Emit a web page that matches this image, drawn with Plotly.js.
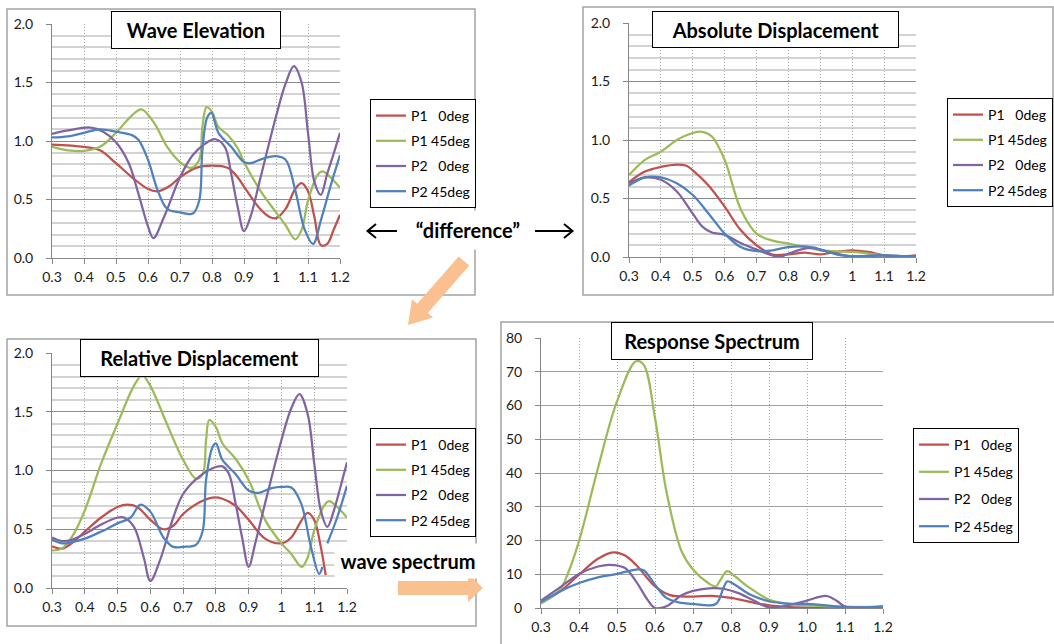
<!DOCTYPE html>
<html><head><meta charset="utf-8">
<script src="https://cdn.plot.ly/plotly-3.0.1.min.js"></script>
<style>html,body{margin:0;padding:0;background:#fff}#chart{width:1054px;height:644px}</style>
</head><body><div id="chart"></div><script>
// ---------- labels ----------
const seriesNames = ['P1\u00a0\u00a0\u00a00deg', 'P1 45deg', 'P2\u00a0\u00a0\u00a00deg', 'P2 45deg'];
const panelTitles = ['Wave Elevation', 'Absolute Displacement', 'Relative Displacement', 'Response Spectrum'];
const xTickVals = [0.3, 0.4, 0.5, 0.6, 0.7, 0.8, 0.9, 1.0, 1.1, 1.2];
const xTickTextA = ['0.3', '0.4', '0.5', '0.6', '0.7', '0.8', '0.9', '1', '1.1', '1.2'];
const xTickTextB = ['0.3', '0.4', '0.5', '0.6', '0.7', '0.8', '0.9', '1.0', '1.1', '1.2'];

// ---------- Wave Elevation ----------
const weP1_0x = [0.3,0.4,0.45,0.5,0.55,0.6,0.63,0.67,0.7,0.75,0.8,0.85,0.88,0.9,0.95,0.98,1.0,1.03,1.06,1.08,1.1,1.12,1.14,1.16,1.18,1.2];
const weP1_0y = [0.97,0.95,0.92,0.81,0.69,0.59,0.57,0.62,0.69,0.77,0.79,0.77,0.69,0.61,0.42,0.35,0.34,0.42,0.59,0.64,0.57,0.35,0.11,0.12,0.24,0.37];
const weP1_45x = [0.3,0.35,0.4,0.45,0.5,0.55,0.58,0.62,0.66,0.7,0.735,0.76,0.77,0.783,0.8,0.82,0.85,0.88,0.9,0.95,1.0,1.03,1.06,1.08,1.1,1.13,1.145,1.17,1.2];
const weP1_45y = [0.95,0.92,0.915,0.95,1.07,1.22,1.27,1.15,0.95,0.82,0.77,0.84,1.12,1.29,1.25,1.12,1.05,0.94,0.82,0.58,0.39,0.28,0.16,0.24,0.49,0.71,0.74,0.69,0.60];
const weP2_0x = [0.3,0.35,0.42,0.46,0.5,0.54,0.57,0.6,0.617,0.65,0.7,0.74,0.78,0.81,0.84,0.86,0.88,0.9,0.92,0.95,1.0,1.03,1.056,1.08,1.1,1.12,1.14,1.16,1.18,1.2];
const weP2_0y = [1.06,1.09,1.115,1.08,0.99,0.81,0.55,0.27,0.17,0.35,0.69,0.88,0.98,1.015,0.95,0.72,0.44,0.23,0.35,0.67,1.21,1.49,1.64,1.50,1.07,0.65,0.54,0.72,0.89,1.07];
const weP2_45x = [0.3,0.35,0.4,0.45,0.5,0.55,0.57,0.6,0.63,0.66,0.7,0.74,0.76,0.77,0.785,0.798,0.82,0.86,0.9,0.92,0.96,1.0,1.03,1.06,1.09,1.116,1.14,1.17,1.2];
const weP2_45y = [1.03,1.04,1.07,1.10,1.08,1.05,1.01,0.84,0.58,0.42,0.39,0.38,0.49,0.92,1.20,1.24,1.07,0.95,0.82,0.81,0.85,0.87,0.84,0.58,0.24,0.12,0.32,0.61,0.88];

// ---------- Absolute Displacement ----------
const adP1_0x = [0.3,0.35,0.4,0.45,0.48,0.5,0.55,0.6,0.65,0.7,0.75,0.8,0.85,0.9,0.95,1.0,1.05,1.1,1.15,1.2];
const adP1_0y = [0.64,0.73,0.77,0.79,0.78,0.74,0.61,0.43,0.23,0.10,0.02,0.023,0.037,0.023,0.043,0.057,0.043,0.014,0.006,0.014];
const adP1_45x = [0.3,0.35,0.4,0.45,0.5,0.53,0.56,0.6,0.65,0.7,0.75,0.8,0.85,0.9,1.0,1.1,1.15,1.2];
const adP1_45y = [0.70,0.83,0.90,1.0,1.06,1.07,1.03,0.83,0.41,0.20,0.14,0.114,0.085,0.057,0.043,0.014,0.0,0.0];
const adP2_0x = [0.3,0.35,0.4,0.45,0.5,0.53,0.56,0.6,0.65,0.7,0.75,0.77,0.8,0.85,0.88,0.9,0.95,1.0,1.1,1.2];
const adP2_0y = [0.63,0.68,0.66,0.56,0.37,0.26,0.21,0.19,0.12,0.063,0.014,0.0,0.028,0.071,0.08,0.063,0.028,0.006,0.014,0.0];
const adP2_45x = [0.3,0.35,0.4,0.45,0.5,0.55,0.6,0.65,0.7,0.75,0.8,0.85,0.9,0.95,1.0,1.1,1.2];
const adP2_45y = [0.61,0.68,0.68,0.63,0.53,0.37,0.20,0.085,0.05,0.057,0.085,0.09,0.063,0.023,0.006,0.014,0.0];

// ---------- Relative Displacement ----------
const rdP1_0x = [0.3,0.33,0.36,0.4,0.45,0.5,0.53,0.56,0.6,0.64,0.67,0.7,0.75,0.79,0.82,0.86,0.9,0.95,1.0,1.03,1.06,1.08,1.1,1.12,1.135];
const rdP1_0y = [0.355,0.335,0.38,0.48,0.60,0.69,0.71,0.69,0.58,0.50,0.53,0.63,0.73,0.77,0.76,0.70,0.58,0.42,0.38,0.43,0.57,0.64,0.58,0.35,0.11];
const rdP1_45x = [0.3,0.33,0.36,0.4,0.45,0.5,0.55,0.575,0.6,0.65,0.7,0.74,0.76,0.77,0.78,0.8,0.82,0.86,0.9,0.95,1.0,1.03,1.062,1.08,1.1,1.13,1.145,1.17,1.2];
const rdP1_45y = [0.32,0.335,0.43,0.66,1.06,1.40,1.72,1.81,1.72,1.40,1.09,0.93,0.97,1.26,1.43,1.37,1.23,1.10,0.92,0.58,0.38,0.29,0.18,0.26,0.49,0.70,0.74,0.69,0.60];
const rdP2_0x = [0.3,0.33,0.36,0.4,0.45,0.5,0.52,0.55,0.58,0.6,0.63,0.67,0.7,0.75,0.8,0.82,0.84,0.86,0.88,0.9,0.92,0.95,1.0,1.03,1.055,1.08,1.1,1.12,1.14,1.16,1.18,1.2];
const rdP2_0y = [0.43,0.40,0.41,0.46,0.54,0.60,0.60,0.52,0.26,0.06,0.24,0.60,0.80,0.95,1.03,1.035,0.97,0.72,0.43,0.18,0.38,0.72,1.26,1.53,1.65,1.48,1.06,0.66,0.52,0.66,0.86,1.07];
const rdP2_45x = [0.3,0.33,0.36,0.4,0.45,0.5,0.54,0.57,0.6,0.64,0.67,0.7,0.74,0.76,0.77,0.79,0.8,0.82,0.86,0.9,0.93,0.97,1.0,1.03,1.06,1.09,1.115,1.125,1.13,1.14,1.17,1.2];
const rdP2_45y = [0.41,0.38,0.39,0.42,0.48,0.55,0.60,0.71,0.65,0.43,0.35,0.35,0.37,0.49,0.92,1.20,1.23,1.09,0.97,0.83,0.81,0.85,0.86,0.855,0.72,0.35,0.12,0.18,null,0.38,0.60,0.87];

// ---------- Response Spectrum ----------
const rsP1_0x = [0.3,0.35,0.4,0.45,0.49,0.52,0.55,0.6,0.64,0.7,0.75,0.8,0.85,0.9,1.0,1.1,1.2];
const rsP1_0y = [1.5,4.9,9.9,14.6,16.5,15.6,12.8,6.4,3.8,3.4,3.6,3.0,1.8,0.8,0.1,0.1,0];
const rsP1_45x = [0.3,0.35,0.37,0.4,0.45,0.5,0.55,0.57,0.6,0.63,0.67,0.7,0.74,0.76,0.77,0.79,0.81,0.85,0.9,0.95,1.0,1.1,1.2];
const rsP1_45y = [1.3,5.4,10.0,19.8,41.5,61.2,73.1,72.1,56.3,34.6,16.8,11.4,7.4,6.4,7.9,10.9,9.4,5.9,2.5,1.2,0.8,0.4,0.2];
const rsP2_0x = [0.3,0.35,0.4,0.45,0.48,0.52,0.55,0.58,0.6,0.63,0.67,0.7,0.75,0.78,0.82,0.86,0.9,0.95,1.0,1.05,1.08,1.1,1.15,1.2];
const rsP2_0y = [2.2,6.1,10.1,12.3,12.8,11.9,7.9,2.5,0.0,0.5,3.8,5.1,5.9,5.7,4.4,2.2,0.2,0.8,2.2,3.6,2.0,0.4,0.2,0.5];
const rsP2_45x = [0.3,0.35,0.4,0.45,0.5,0.55,0.57,0.6,0.63,0.67,0.7,0.76,0.78,0.79,0.81,0.85,0.9,0.95,1.0,1.05,1.1,1.2];
const rsP2_45y = [1.8,4.9,7.4,9.1,10.1,11.4,11.2,6.9,3.0,1.5,1.2,1.2,5.9,7.9,6.9,4.0,2.0,1.3,1.2,0.8,0.2,0.4];

// ---------- styles ----------
const COLORS = ['#C0504D', '#9BBB59', '#8064A2', '#4F81BD'];
const W = 1054, H = 644;
const FONT = 'Lato, "Open Sans", sans-serif';
const px = v => v / W;
const py = v => 1 - v / H;

const panels = [
  {series: [[weP1_0x, weP1_0y], [weP1_45x, weP1_45y], [weP2_0x, weP2_0y], [weP2_45x, weP2_45y]]},
  {series: [[adP1_0x, adP1_0y], [adP1_45x, adP1_45y], [adP2_0x, adP2_0y], [adP2_45x, adP2_45y]]},
  {series: [[rdP1_0x, rdP1_0y], [rdP1_45x, rdP1_45y], [rdP2_0x, rdP2_0y], [rdP2_45x, rdP2_45y]]},
  {series: [[rsP1_0x, rsP1_0y], [rsP1_45x, rsP1_45y], [rsP2_0x, rsP2_0y], [rsP2_45x, rsP2_45y]]}
];

// plot area boxes in pixels: [left, right, top, bottom]
const plotBoxes = [[52, 340, 24, 258], [629, 916, 23, 257], [52, 347, 353, 588], [541, 883, 338, 608]];
const legendPos = [[370, 99], [947, 98], [370, 428], [913, 428]];
const titleBoxes = [[196, 30, 168, 36], [775.5, 29.5, 245, 35], [199.5, 358, 237, 36], [712, 341, 200, 36]];
const frameBoxes = [[7, 9, 475, 295], [583, 7, 1053, 295], [7, 339, 476, 626], [501, 322, 1062, 652]];

const data = [];
panels.forEach((p, i) => {
  const n = i + 1;
  p.series.forEach((s, k) => {
    data.push({
      type: 'scatter', mode: 'lines', x: s[0], y: s[1], name: seriesNames[k],
      line: {color: COLORS[k], width: 2.25, shape: 'spline', smoothing: 1},
      xaxis: 'x' + n, yaxis: 'y' + n,
      legend: n === 1 ? 'legend' : 'legend' + n,
      legendgroup: 'g' + n + '_' + k,
      hoverinfo: 'skip', cliponaxis: false, connectgaps: false
    });
  });
});

const tickFont = {family: FONT, size: 14, color: '#1a1a1a'};
const layout = {
  width: W, height: H, margin: {l: 0, r: 0, t: 0, b: 0},
  paper_bgcolor: '#fff', plot_bgcolor: '#fff', showlegend: true,
  font: {family: FONT},
  shapes: [], annotations: []
};

plotBoxes.forEach((b, i) => {
  const n = i + 1;
  const isRS = i === 3;
  layout['xaxis' + n] = {
    domain: [px(b[0]), px(b[1])], range: [0.3, 1.2], anchor: 'y' + n,
    tickmode: 'array', tickvals: xTickVals, ticktext: isRS ? xTickTextB : xTickTextA,
    showgrid: true, gridcolor: '#A6A6A6', griddash: '1px,2px', gridwidth: 1,
    showline: true, linecolor: '#868686', linewidth: 1,
    ticks: 'outside', ticklen: 5, tickcolor: '#868686', ticklabelstandoff: 1,
    tickfont: tickFont, zeroline: false, fixedrange: true
  };
  const y = {
    domain: [py(b[3]), py(b[2])], anchor: 'x' + n,
    showgrid: true, showline: true, linecolor: '#868686', linewidth: 1,
    ticks: 'outside', ticklen: 5, tickcolor: '#868686', ticklabelstandoff: 10,
    tickfont: tickFont, zeroline: false, fixedrange: true
  };
  if (isRS) {
    Object.assign(y, {range: [0, 80], tick0: 0, dtick: 10, gridcolor: '#A0A0A0', gridwidth: 1});
  } else {
    Object.assign(y, {range: [0, 2], tick0: 0, dtick: 0.5, tickformat: '.1f', gridcolor: '#8C8C8C', gridwidth: 1,
      minor: {tick0: 0, dtick: 0.1, showgrid: true, gridcolor: '#D3D3D3', gridwidth: 2, ticks: ''}});
  }
  layout['yaxis' + n] = y;

  const lg = {
    x: px(legendPos[i][0]), y: py(legendPos[i][1]), xanchor: 'left', yanchor: 'top',
    bgcolor: '#fff', bordercolor: '#000', borderwidth: 1,
    font: {family: FONT, size: 14, color: '#000'},
    traceorder: 'grouped', tracegroupgap: isRS ? 6 : 4, itemwidth: 30
  };
  layout[n === 1 ? 'legend' : 'legend' + n] = lg;

  const f = frameBoxes[i];
  layout.shapes.push({type: 'rect', xref: 'paper', yref: 'paper', x0: px(f[0]), x1: px(f[2]), y0: py(f[1]), y1: py(f[3]),
    line: {color: '#A3A3A3', width: 1.5}, fillcolor: 'rgba(0,0,0,0)', layer: 'below'});

  const t = titleBoxes[i];
  layout.annotations.push({xref: 'paper', yref: 'paper', x: px(t[0]), y: py(t[1]), xanchor: 'center', yanchor: 'middle',
    text: '<b>' + panelTitles[i] + '</b>', showarrow: false, font: {family: FONT, size: 20, color: '#000'},
    bgcolor: '#fff', bordercolor: '#000', borderwidth: 1, borderpad: 0, width: t[2], height: t[3]});
});

// connecting annotations
layout.annotations.push({xref: 'paper', yref: 'paper', x: px(467.5), y: py(230), xanchor: 'center', yanchor: 'middle',
  text: '<b>\u201Cdifference\u201D</b>', showarrow: false, font: {family: FONT, size: 20, color: '#000'},
  bgcolor: '#fff', borderpad: 0, width: 126, height: 38});
layout.annotations.push({xref: 'paper', yref: 'paper', x: px(408), y: py(561), xanchor: 'center', yanchor: 'middle',
  text: '<b>wave spectrum</b>', showarrow: false, font: {family: FONT, size: 20, color: '#000'},
  bgcolor: '#fff', borderpad: 0, width: 146, height: 34});

function pathFrom(points, close) {
  return points.map((p, j) => (j ? 'L' : 'M') + px(p[0]).toFixed(5) + ',' + py(p[1]).toFixed(5)).join(' ') + (close ? ' Z' : '');
}
// black thin arrows
layout.shapes.push({type: 'path', xref: 'paper', yref: 'paper', layer: 'above', line: {color: '#000', width: 2},
  path: pathFrom([[397, 231], [368, 231]]) + ' ' + pathFrom([[376, 224], [367.5, 231], [376, 238]])});
layout.shapes.push({type: 'path', xref: 'paper', yref: 'paper', layer: 'above', line: {color: '#000', width: 2},
  path: pathFrom([[535, 231], [572, 231]]) + ' ' + pathFrom([[564, 224], [572.5, 231], [564, 238]])});
// orange block arrows
layout.shapes.push({type: 'path', xref: 'paper', yref: 'paper', layer: 'above', fillcolor: '#FAC090', line: {width: 0},
  path: pathFrom([[469.3, 265.6], [427.8, 313.0], [433.0, 317.6], [408, 325], [412.0, 299.2], [417.2, 303.8], [458.7, 256.4]], true)});
layout.shapes.push({type: 'path', xref: 'paper', yref: 'paper', layer: 'above', fillcolor: '#FAC090', line: {width: 0},
  path: pathFrom([[398, 581], [468, 581], [468, 573], [483, 588], [468, 602], [468, 595], [398, 595]], true)});

Plotly.newPlot('chart', data, layout, {displayModeBar: false, staticPlot: true});
</script></body></html>
